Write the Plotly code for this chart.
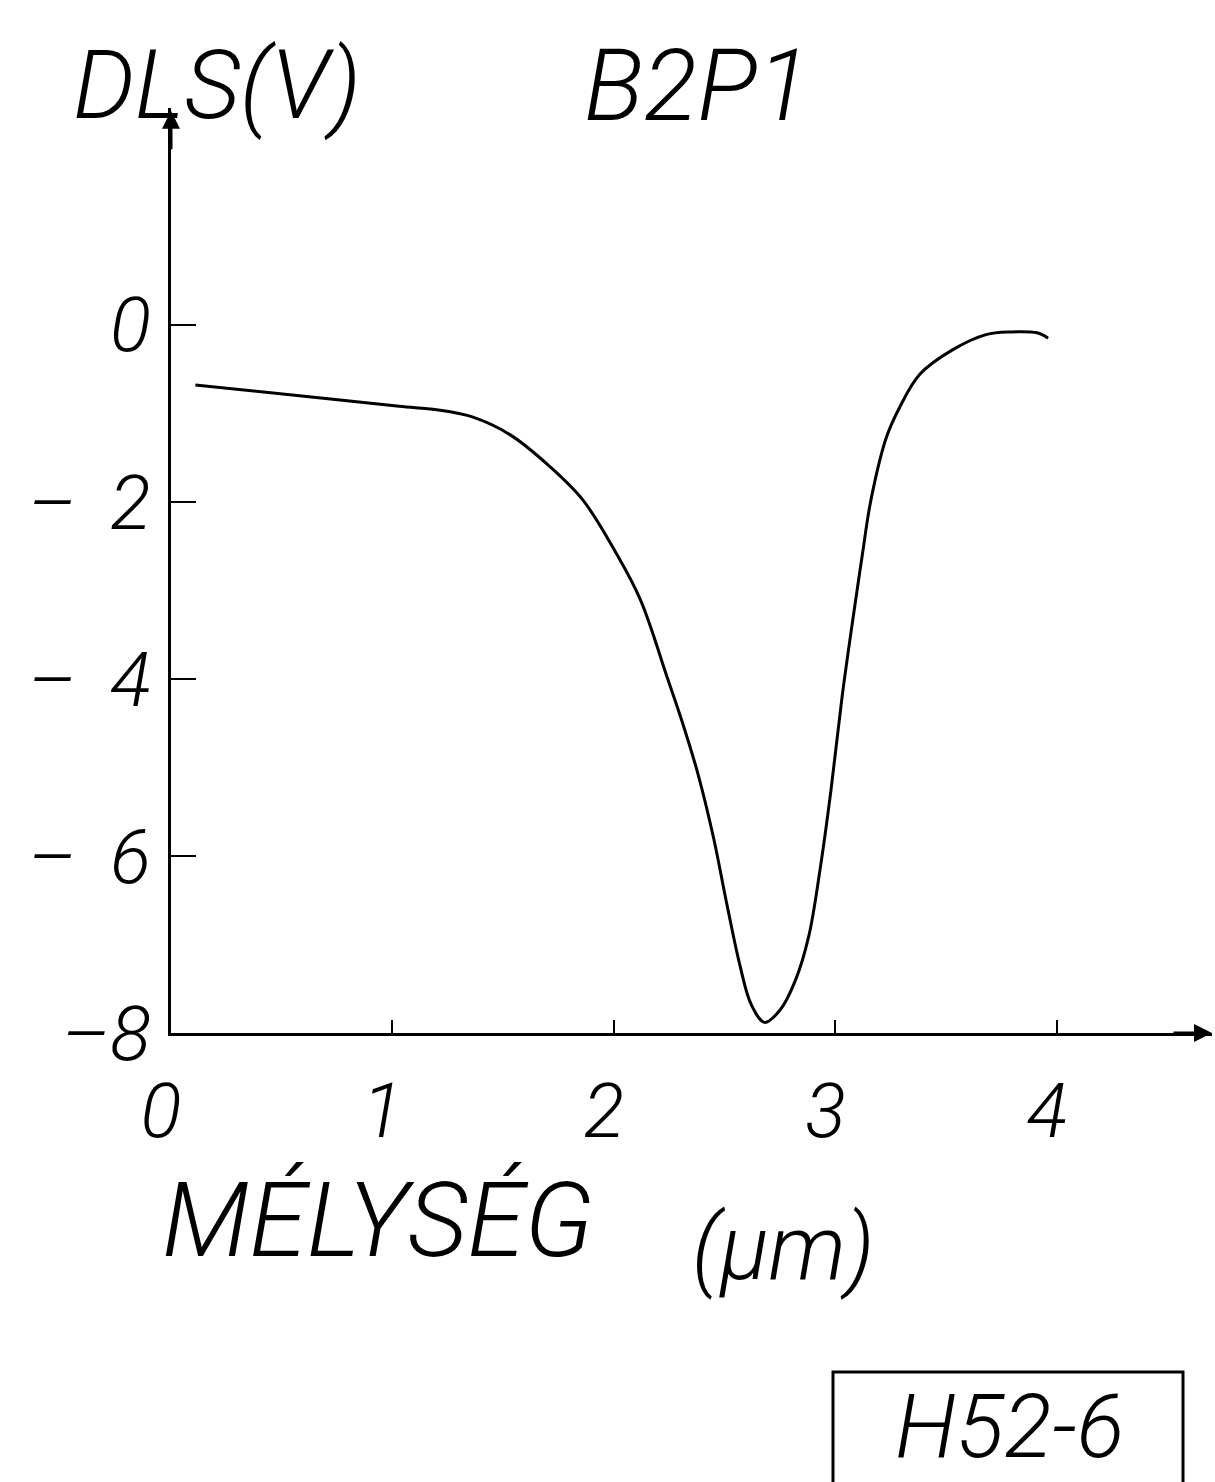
import plotly.graph_objects as go

# ---- data ----
depth = [0.11, 0.58, 1.03, 1.20, 1.36, 1.53, 1.71, 1.86, 2.01, 2.12, 2.24, 2.31,
         2.38, 2.45, 2.51, 2.57, 2.62, 2.68, 2.75, 2.82, 2.88, 2.93, 2.98, 3.03,
         3.08, 3.12, 3.16, 3.23, 3.29, 3.38, 3.53, 3.68, 3.79, 3.91, 3.96]
dls = [-0.68, -0.80, -0.92, -0.96, -1.04, -1.24, -1.60, -1.98, -2.58, -3.11, -3.98, -4.50,
       -5.08, -5.80, -6.55, -7.25, -7.68, -7.88, -7.74, -7.40, -6.90, -6.16, -5.25, -4.20,
       -3.30, -2.62, -1.98, -1.27, -0.93, -0.56, -0.28, -0.11, -0.08, -0.09, -0.15]

x_tickvals = [0, 1, 2, 3, 4]
x_ticktext = ["0", "1", "2", "3", "4"]
y_tickvals = [-8, -6, -4, -2, 0]
y_ticktext = ["\u20138", "\u2013\u2009 6", "\u2013\u2009 4", "\u2013\u2009 2", "0"]

y_title = "DLS(V)"
sample_label = "B2P1"
x_title = "MÉLYSÉG"
x_unit = "(µm)"
code_label = "H52-6"

FONT = "Roboto"
ink = "black"

fig = go.Figure()
fig.add_trace(go.Scatter(x=depth, y=dls, mode="lines",
                         line=dict(color=ink, width=3, shape="spline", smoothing=1.0),
                         hoverinfo="skip", showlegend=False))

W, H = 1215, 1482
ml, mr, mt, mb = 171, 3, 108, 449
pw, ph = W - ml - mr, H - mt - mb

def px(xp):
    return (xp - ml) / pw

def py(yp):
    return (H - mb - yp) / ph

tfont = dict(family=FONT, size=76, color=ink, style="italic", weight=300)

fig.update_layout(
    width=W, height=H,
    margin=dict(l=ml, r=mr, t=mt, b=mb, pad=0),
    paper_bgcolor="white", plot_bgcolor="white",
    showlegend=False,
    xaxis=dict(range=[0, 4.7], showgrid=False, zeroline=False,
               showline=True, linecolor=ink, linewidth=3,
               ticks="inside", ticklen=13, tickwidth=2, tickcolor=ink,
               tickvals=x_tickvals, ticktext=x_ticktext,
               ticklabelstandoff=10, ticklabelshift=-10,
               tickfont=tfont),
    yaxis=dict(range=[-8, 2.45], showgrid=False, zeroline=False,
               showline=True, linecolor=ink, linewidth=3,
               ticks="inside", ticklen=25, tickwidth=2, tickcolor=ink,
               tickvals=y_tickvals, ticktext=y_ticktext,
               ticklabelstandoff=2,
               tickfont=tfont),
)

# axis arrowheads
fig.add_annotation(x=4.7, y=-8, xref="x", yref="y", ax=-40, ay=0, text="",
                   showarrow=True, arrowhead=2, arrowsize=1.2, arrowwidth=3, arrowcolor=ink)
fig.add_annotation(x=0, y=2.42, xref="x", yref="y", ax=0, ay=40, text="",
                   showarrow=True, arrowhead=2, arrowsize=1.2, arrowwidth=3, arrowcolor=ink)

def label(text, xc, yc, size):
    fig.add_annotation(x=px(xc), y=py(yc), xref="paper", yref="paper", text=text,
                       showarrow=False, xanchor="center", yanchor="middle",
                       font=dict(family=FONT, size=size, color=ink, style="italic", weight=300))

label(y_title, 217, 85, 97)
label(sample_label, 697, 85, 100)
label(x_title, 378, 1220, 104)
label(x_unit, 783, 1248, 90)
label(code_label, 1010, 1426, 89)

fig.add_shape(type="rect", xref="paper", yref="paper",
              x0=px(833), x1=px(1183), y0=py(1372), y1=py(1500),
              line=dict(color=ink, width=3))

fig.write_html("out.html")
